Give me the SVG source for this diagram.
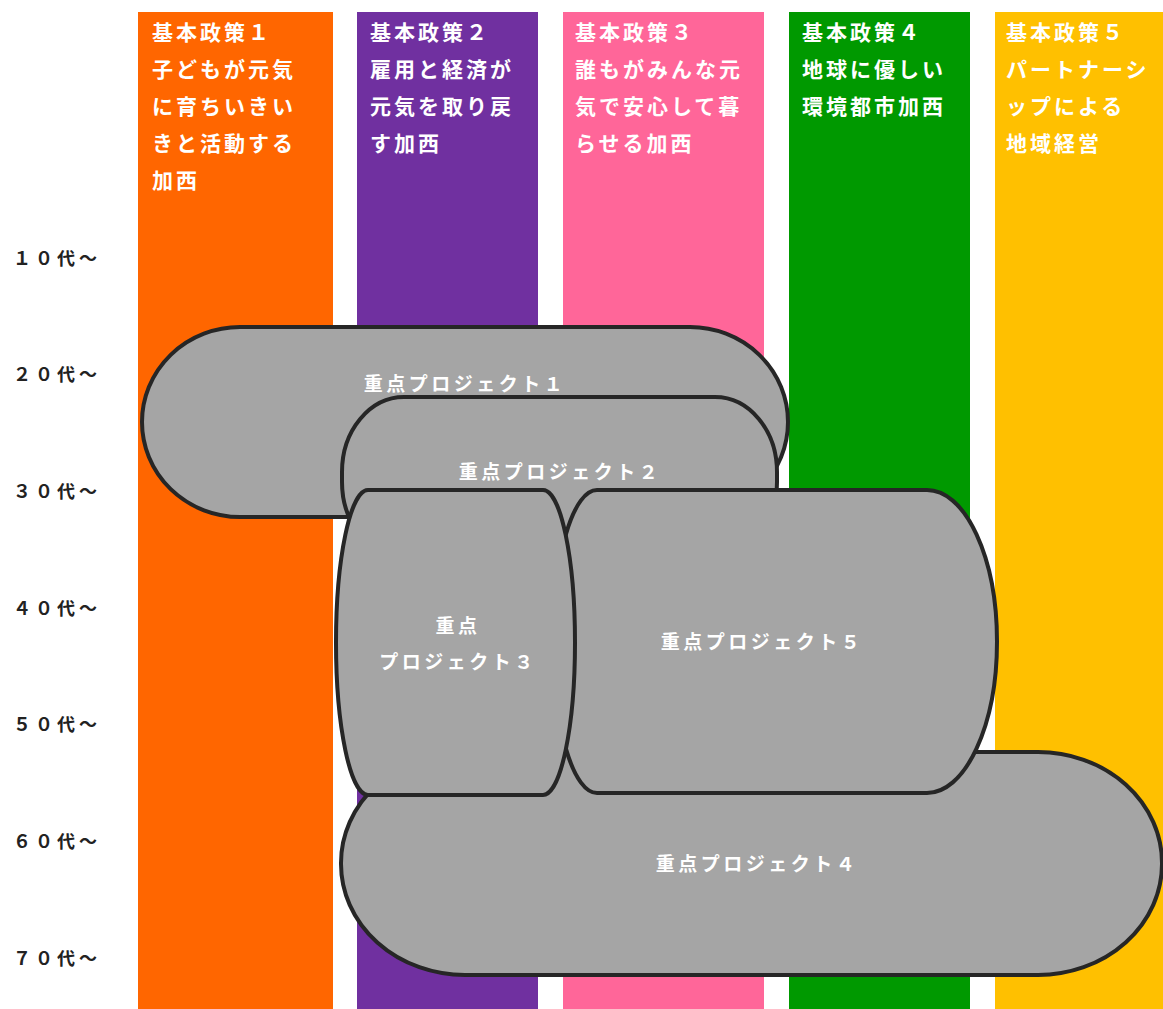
<svg xmlns="http://www.w3.org/2000/svg" width="1163" height="1009" viewBox="0 0 1163 1009">
<style>
.title{font-family:"Noto Sans CJK JP","Noto Sans CJK SC",sans-serif;font-size:21px;fill:#ffffff;font-weight:bold;letter-spacing:3px}
.age{font-family:"Noto Sans CJK JP","Noto Sans CJK SC",sans-serif;font-size:18px;fill:#222222;font-weight:bold;letter-spacing:4px}
.proj{fill:#a5a5a5;stroke:#262626;stroke-width:4}
.plabel{font-family:"Noto Sans CJK JP","Noto Sans CJK SC",sans-serif;font-size:19px;fill:#ffffff;font-weight:bold;letter-spacing:3.5px;text-anchor:middle}
</style>
<rect width="1163" height="1009" fill="#ffffff"/>
<g id="policy1">
<rect x="138" y="12" width="195" height="997" fill="#ff6600"/>
<text class="title" x="152" y="40">基本政策１</text>
<text class="title" x="152" y="77">子どもが元気</text>
<text class="title" x="152" y="114">に育ちいきい</text>
<text class="title" x="152" y="151">きと活動する</text>
<text class="title" x="152" y="188">加西</text>
</g>
<g id="policy2">
<rect x="357" y="12" width="181" height="997" fill="#7030a0"/>
<text class="title" x="370" y="40">基本政策２</text>
<text class="title" x="370" y="77">雇用と経済が</text>
<text class="title" x="370" y="114">元気を取り戻</text>
<text class="title" x="370" y="151">す加西</text>
</g>
<g id="policy3">
<rect x="563" y="12" width="201" height="997" fill="#ff6699"/>
<text class="title" x="575" y="40">基本政策３</text>
<text class="title" x="575" y="77">誰もがみんな元</text>
<text class="title" x="575" y="114">気で安心して暮</text>
<text class="title" x="575" y="151">らせる加西</text>
</g>
<g id="policy4">
<rect x="789" y="12" width="181" height="997" fill="#009900"/>
<text class="title" x="802" y="40">基本政策４</text>
<text class="title" x="802" y="77">地球に優しい</text>
<text class="title" x="802" y="114">環境都市加西</text>
</g>
<g id="policy5">
<rect x="995" y="12" width="168" height="997" fill="#ffc000"/>
<text class="title" x="1006" y="40">基本政策５</text>
<text class="title" x="1006" y="77">パートナーシ</text>
<text class="title" x="1006" y="114">ップによる</text>
<text class="title" x="1006" y="151">地域経営</text>
</g>
<g id="ages">
<text class="age" x="13" y="265">１０代～</text>
<text class="age" x="13" y="381">２０代～</text>
<text class="age" x="13" y="498">３０代～</text>
<text class="age" x="13" y="615">４０代～</text>
<text class="age" x="13" y="731">５０代～</text>
<text class="age" x="13" y="848">６０代～</text>
<text class="age" x="13" y="965">７０代～</text>
</g>
<g id="project1">
<rect class="proj" x="142" y="327" width="646" height="190" rx="98" ry="95"/>
<text class="plabel" x="465" y="391">重点プロジェクト１</text>
</g>
<g id="project2">
<rect class="proj" x="342" y="397" width="435" height="160" rx="62" ry="75"/>
<text class="plabel" x="560" y="479">重点プロジェクト２</text>
</g>
<g id="project4">
<rect class="proj" x="341" y="752" width="821" height="223" rx="124" ry="111"/>
<text class="plabel" x="757" y="871">重点プロジェクト４</text>
</g>
<g id="project5">
<path class="proj" d="M597,490 L927,490 A70,151.5 0 0 1 997,641.5 A70,151.5 0 0 1 927,793 L597,793 A44,151.5 0 0 1 553,641.5 A44,151.5 0 0 1 597,490 Z"/>
<text class="plabel" x="762" y="649">重点プロジェクト５</text>
</g>
<g id="project3">
<rect class="proj" x="336" y="490" width="239" height="305" rx="32" ry="152.5"/>
<text class="plabel" x="458" y="633">重点</text>
<text class="plabel" x="458" y="669">プロジェクト３</text>
</g>
<g id="connectors"></g>
</svg>
